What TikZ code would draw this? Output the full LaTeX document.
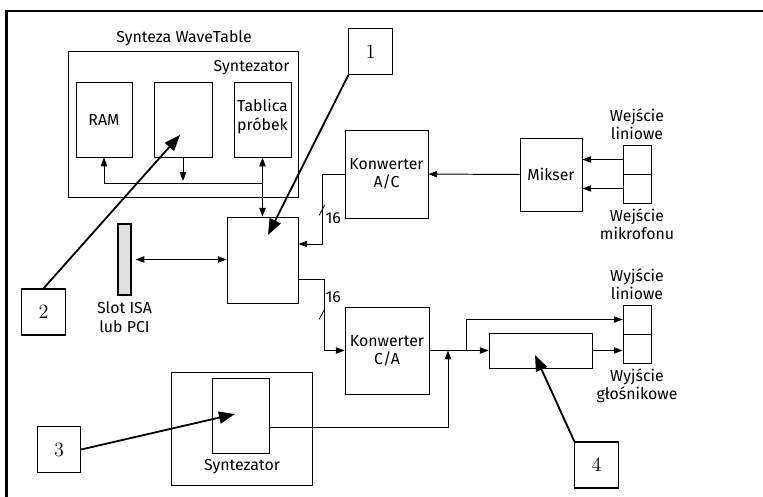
\documentclass[tikz,border=0pt]{standalone}
\usepackage{fontspec}
\setsansfont{Fira Sans}
\usetikzlibrary{arrows.meta}
\newcommand{\diagfont}{\sffamily\fontsize{11.3}{13}\selectfont}
\tikzset{
  blk/.style    = {draw, line width=0.6pt, inner sep=2pt, font=\diagfont, align=center},
  lbl/.style    = {font=\diagfont, align=center, inner sep=1pt},
  numbox/.style = {draw, line width=0.8pt, font=\Large, minimum width=1.08cm, minimum height=1.15cm},
  sig/.style    = {-{Triangle[length=2.2mm,width=1.6mm]}, line width=0.7pt},
  dsig/.style   = {{Triangle[length=2.2mm,width=1.6mm]}-{Triangle[length=2.2mm,width=1.6mm]}, line width=0.7pt},
  ptr/.style    = {-{Triangle[length=4mm,width=3mm]}, line width=1.3pt}
}

\begin{document}
\begin{tikzpicture}
  \useasboundingbox (0,0) rectangle (19.075,-12.425);
  \draw[line width=1.6pt] (0.16,-12.425) -- (0.16,-0.275) -- (19.075,-0.275);

  % blok syntezy WaveTable
  \node[blk, minimum width=5.75cm, minimum height=3.65cm] (wt) at (4.575,-3.1) {};
  \node[lbl] (wttxt) at (4.6,-0.95) {Synteza WaveTable};
  \node[lbl, anchor=north east] (wtsyn) at ([xshift=-0.18cm,yshift=-0.2cm]wt.north east) {Syntezator};
  \node[blk, minimum width=1.4cm, minimum height=1.875cm] (ram) at (2.6,-2.99) {RAM};
  \node[blk, minimum width=1.45cm, minimum height=1.875cm] (mid) at (4.575,-2.99) {};
  \node[blk, minimum width=1.425cm, minimum height=1.875cm] (tab) at (6.5625,-2.99) {};
  \node[lbl, anchor=north] (tabtxt) at ([yshift=-0.4cm]tab.north) {Tablica\\próbek};

  \node[blk, minimum width=1.775cm, minimum height=2.15cm] (cpu) at (6.5625,-6.5) {};
  \node[blk, fill=gray!25, line width=0.8pt, minimum width=0.325cm, minimum height=1.775cm, inner sep=0pt] (slot) at (3.1125,-6.4875) {};
  \node[lbl, anchor=north] (slottxt) at ([yshift=-0.12cm]slot.south) {Slot ISA\\lub PCI};

  \node[blk, minimum width=2.075cm, minimum height=2.2cm] (ac) at (9.6625,-4.35) {Konwerter\\A/C};
  \node[blk, minimum width=1.55cm, minimum height=1.825cm] (mix) at (13.775,-4.3625) {Mikser};
  \node[blk, minimum width=0.7cm, minimum height=0.725cm] (inA) at (15.925,-3.9875) {};
  \node[blk, minimum width=0.7cm, minimum height=0.725cm] (inB) at (15.925,-4.7125) {};
  \node[lbl, anchor=south] (inAtxt) at ([yshift=0.08cm]inA.north) {Wejście\\liniowe};
  \node[lbl, anchor=north] (inBtxt) at ([yshift=-0.08cm]inB.south) {Wejście\\mikrofonu};

  \node[blk, minimum width=2.1cm, minimum height=2.175cm] (ca) at (9.675,-8.7625) {Konwerter\\C/A};
  \node[blk, minimum width=2.575cm, minimum height=0.875cm] (amp) at (13.5125,-8.7625) {};
  \node[blk, minimum width=0.7cm, minimum height=0.725cm] (outA) at (15.925,-7.9875) {};
  \node[blk, minimum width=0.7cm, minimum height=0.725cm] (outB) at (15.925,-8.7125) {};
  \node[lbl, anchor=south] (outAtxt) at ([yshift=0.08cm]outA.north) {Wyjście\\liniowe};
  \node[lbl, anchor=north] (outBtxt) at ([yshift=-0.08cm]outB.south) {Wyjście\\głośnikowe};

  \node[blk, minimum width=3.525cm, minimum height=2.825cm] (synout) at (6.0375,-10.7125) {};
  \node[blk, minimum width=1.425cm, minimum height=1.875cm] (synin) at (6.0125,-10.3875) {};
  \node[lbl] (syntxt) at (6.05,-11.675) {Syntezator};

  % numery
  \node[numbox] (n1) at (9.2625,-1.2875) {1};
  \node[numbox] (n2) at (1.0875,-7.8) {2};
  \node[numbox] (n3) at (1.475,-11.2375) {3};
  \node[numbox] (n4) at (14.9125,-11.625) {4};

  \coordinate (busL) at (2.6,-4.575);
  \coordinate (busR) at (6.5625,-4.575);
  \coordinate (bendA) at (8.05,-4.35);
  \coordinate (splitO) at (11.65,-8.7625);
  \coordinate (joinS) at (11.2,-8.7625);
  \coordinate (p1) at (6.7,-5.875);
  \coordinate (p2) at (4.5,-3.375);
  \coordinate (p3) at (5.875,-10.35);
  \coordinate (p4) at (13.375,-8.875);

  \draw[line width=0.7pt] (busL) -- (busR);
  \draw[sig] (busL) -- (ram.south);
  \draw[sig] (mid.south) -- ([yshift=0.05cm]mid.south |- busL);
  \draw[dsig] (tab.south) -- (cpu.north);
  \draw[dsig] ([xshift=0.1cm]slot.east) -- (cpu.west |- slot.east);

  \draw[sig] (mix) -- (ac);
  \draw[sig] (inA.west) -- (inA.west -| mix.east);
  \draw[sig] (inB.west) -- (inB.west -| mix.east);
  \draw[sig] (ac.west) -- (bendA) |- ([yshift=0.4cm]cpu.east);
  \draw[sig] ([yshift=-0.475cm]cpu.east) -- ++(0.64,0) |- (ca.west);

  \foreach \y/\t in {-5.25/-5.45, -7.85/-7.425}
    \draw[line width=0.6pt] (8.05,\y) +(-0.07,-0.13) -- +(0.07,0.13) (8.33,\t) node[lbl]{16};

  \draw[sig] (ca) -- (amp);
  \draw[sig] (splitO) |- (outA.west);
  \draw[sig] (amp.east) -- (amp.east -| outB.west);
  \draw[sig] ([yshift=-0.31cm]synin.east) -| (joinS);

  \draw[ptr] (n1.south west) -- (p1);
  \draw[ptr] (n2.north) -- (p2);
  \draw[ptr] (n3.east) -- (p3);
  \draw[ptr] (n4.north west) -- (p4);
\end{tikzpicture}
\end{document}
